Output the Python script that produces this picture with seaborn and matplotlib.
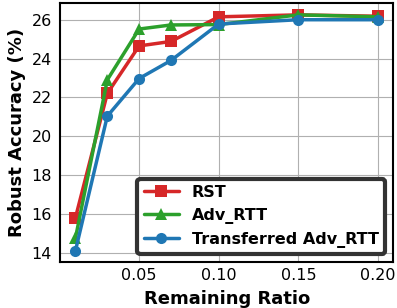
import numpy as np
import pandas as pd
import matplotlib
matplotlib.use("Agg")
import matplotlib.pyplot as plt
import seaborn as sns

ratios = [0.01, 0.03, 0.05, 0.07, 0.10, 0.15, 0.20]
rst = [15.8, 22.2, 24.65, 24.88, 26.15, 26.25, 26.18]
adv_rtt = [14.75, 22.9, 25.52, 25.73, 25.75, 26.25, 26.15]
transferred = [14.1, 21.03, 22.97, 23.9, 25.78, 26.0, 26.0]

names = ["RST", "Adv_RTT", "Transferred Adv_RTT"]
colors = ["#d62728", "#2ca02c", "#1f77b4"]
markers = ["s", "^", "o"]

df = pd.DataFrame({"ratio": ratios * 3,
                   "acc": rst + adv_rtt + transferred,
                   "method": [n for n in names for _ in ratios]})

sns.set_style("whitegrid", {"axes.edgecolor": "black", "grid.color": "#b0b0b0",
                            "text.color": "black", "axes.labelcolor": "black",
                            "xtick.color": "black", "ytick.color": "black"})
plt.rcParams["font.family"] = ["DejaVu Sans"]

fig, ax = plt.subplots(figsize=(3.97, 3.08), dpi=100)
for name, c, m in zip(names, colors, markers):
    d = df[df.method == name]
    sns.lineplot(x="ratio", y="acc", data=d, ax=ax, color=c, marker=m,
                 markersize=8, linewidth=2.5, markeredgewidth=0, label=name)

ax.set_xticks([0.05, 0.10, 0.15, 0.20])
ax.set_xticklabels(["0.05", "0.10", "0.15", "0.20"])
ax.set_yticks([14, 16, 18, 20, 22, 24, 26])
ax.tick_params(axis="y", labelsize=11.5, length=4, color="black", pad=2)
ax.tick_params(axis="x", labelsize=11.5, length=0, pad=4)
ax.set_xlabel("Remaining Ratio", fontsize=13, fontweight="bold", labelpad=5)
ax.set_ylabel("Robust Accuracy (%)", fontsize=13, fontweight="bold", labelpad=4)
for s in ax.spines.values():
    s.set_linewidth(1.5)
    s.set_color("black")

leg = ax.legend(loc="lower right", prop={"weight": "bold", "size": 11.5},
                frameon=True, fancybox=True, handlelength=2.2)
leg.get_frame().set_edgecolor("#333333")
leg.get_frame().set_linewidth(3)
leg.get_frame().set_alpha(1)

plt.subplots_adjust(left=0.152, right=0.99, top=0.99, bottom=0.148)
plt.savefig("out.png", dpi=100)
